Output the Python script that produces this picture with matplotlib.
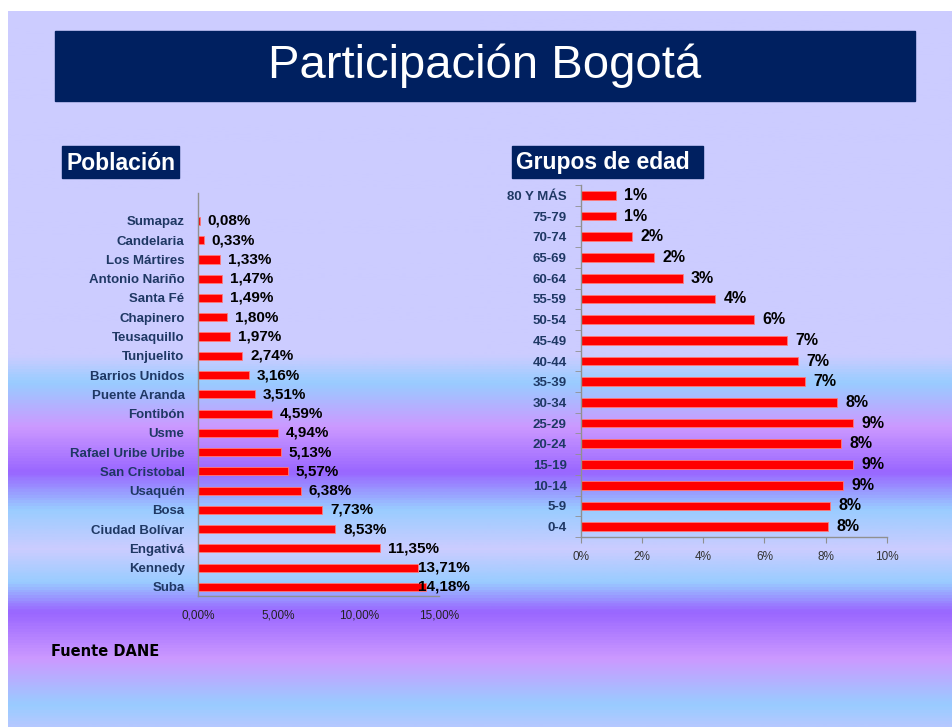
import numpy as np
import matplotlib
matplotlib.use("Agg")
import matplotlib.pyplot as plt
from matplotlib.colors import LinearSegmentedColormap

plt.rcParams['font.family'] = ['Liberation Sans', 'DejaVu Sans']

# data
localidades = ['Suba', 'Kennedy', 'Engativá', 'Ciudad Bolívar', 'Bosa', 'Usaquén',
               'San Cristobal', 'Rafael Uribe Uribe', 'Usme', 'Fontibón',
               'Puente Aranda', 'Barrios Unidos', 'Tunjuelito', 'Teusaquillo',
               'Chapinero', 'Santa Fé', 'Antonio Nariño', 'Los Mártires',
               'Candelaria', 'Sumapaz']
poblacion = [14.18, 13.71, 11.35, 8.53, 7.73, 6.38, 5.57, 5.13, 4.94, 4.59,
             3.51, 3.16, 2.74, 1.97, 1.80, 1.49, 1.47, 1.33, 0.33, 0.08]

grupos = ['0-4', '5-9', '10-14', '15-19', '20-24', '25-29', '30-34', '35-39',
          '40-44', '45-49', '50-54', '55-59', '60-64', '65-69', '70-74',
          '75-79', '80 Y MÁS']
edad = [8.09, 8.15, 8.56, 8.89, 8.51, 8.90, 8.36, 7.32, 7.08, 6.74, 5.65,
        4.39, 3.33, 2.40, 1.69, 1.15, 1.14]
edad_labels = ['8%', '8%', '9%', '9%', '8%', '9%', '8%', '7%', '7%', '7%',
               '6%', '4%', '3%', '2%', '2%', '1%', '1%']

pob_ticks = [0, 5, 10, 15]
edad_ticks = [0, 2, 4, 6, 8, 10]

W, H = 953, 727
fig = plt.figure(figsize=(W / 100, H / 100), dpi=100)


def box(x0, y0, x1, y1):
    # pixel box (top-left origin) -> figure fraction
    return [x0 / W, 1 - y1 / H, (x1 - x0) / W, (y1 - y0) / H]


def rect(x0, y0, x1, y1, color):
    b = box(x0, y0, x1, y1)
    fig.patches.append(plt.Rectangle((b[0], b[1]), b[2], b[3],
                                     transform=fig.transFigure, color=color))


# background gradient of the slide
bg = fig.add_axes(box(8, 11, 953, 727), zorder=-10)
stops = [(11, '#ccccff'), (355, '#ccccff'), (383, '#99ccff'), (427, '#cc99ff'),
         (473, '#9966ff'), (510, '#99ccff'), (550, '#ccccff'), (583, '#99ccff'),
         (613, '#9966ff'), (660, '#cc99ff'), (707, '#99ccff'), (727, '#b4c8ff')]
pos = [(y - 11) / (727 - 11) for y, c in stops]
cmap = LinearSegmentedColormap.from_list('bg', list(zip(pos, [c for y, c in stops])))
grad = np.linspace(0, 1, 700).reshape(-1, 1)
bg.imshow(grad, aspect='auto', cmap=cmap, extent=[0, 1, 0, 1], origin='upper')
bg.axis('off')

# title
rect(55, 31, 915, 101, '#002060')
fig.text(485 / W, 1 - 66 / H, 'Participación Bogotá', color='white',
         fontsize=34, ha='center', va='center')

# subtitle boxes
rect(62, 146, 179, 178, '#002060')
fig.text(66 / W, 1 - 163 / H, 'Población', color='white', fontsize=16.5,
         fontweight='bold', ha='left', va='center')
rect(512, 146, 703, 178, '#002060')
fig.text(516 / W, 1 - 163 / H, 'Grupos de edad', color='white', fontsize=16.5,
         fontweight='bold', ha='left', va='center')

fig.text(51 / W, 1 - 651 / H, 'Fuente DANE', color='black', fontsize=10.5,
         fontweight='bold', ha='left', va='center', family='DejaVu Sans')

label_col = '#1f3864'

# left chart: poblacion
ax1 = fig.add_axes(box(198.5, 193, 439, 596))
y1 = np.arange(len(localidades))
ax1.barh(y1, poblacion, height=0.42, color='#ff0000', edgecolor='#ff7a7a', linewidth=0.6)
ax1.set_xlim(0, 15)
ax1.set_ylim(-0.47, 20.45)
ax1.set_yticks(y1)
ax1.set_yticklabels(localidades, fontsize=9.5, fontweight='bold', color=label_col)
ax1.set_xticks(pob_ticks)
ax1.set_xticklabels([('%.2f%%' % v).replace('.', ',') for v in pob_ticks],
                    fontsize=8.5, color='#222222')
ax1.xaxis.set_tick_params(length=0, pad=10)
ax1.yaxis.set_tick_params(length=0, pad=10)
for s in ['top', 'right']:
    ax1.spines[s].set_visible(False)
for s in ['left', 'bottom']:
    ax1.spines[s].set_color('#909090')
    ax1.spines[s].set_linewidth(1)
ax1.patch.set_visible(False)
for yy, v in zip(y1, poblacion):
    # labels that would leave the plot area are pulled back inside, as in Excel
    ax1.text(min(v + 0.5, 13.7), yy, ('%.2f%%' % v).replace('.', ','),
             va='center', ha='left', fontsize=11, fontweight='bold', color='black')

# right chart: grupos de edad
ax2 = fig.add_axes(box(580.7, 185, 887, 537))
y2 = np.arange(len(grupos))
ax2.barh(y2, edad, height=0.42, color='#ff0000', edgecolor='#ff7a7a', linewidth=0.6)
ax2.set_xlim(0, 10)
ax2.set_ylim(-0.5, 16.5)
ax2.set_yticks(y2)
ax2.set_yticklabels(grupos, fontsize=9.5, fontweight='bold', color=label_col)
ax2.set_yticks(np.arange(-0.5, 16.6, 1), minor=True)
ax2.yaxis.set_tick_params(which='major', length=0, pad=10)
ax2.yaxis.set_tick_params(which='minor', length=4, color='#909090', direction='out')
ax2.set_xticks(edad_ticks)
ax2.set_xticklabels(['%d%%' % v for v in edad_ticks], fontsize=8.5, color='#333333')
ax2.xaxis.set_tick_params(length=4, color='#909090', pad=6)
for s in ['top', 'right']:
    ax2.spines[s].set_visible(False)
for s in ['left', 'bottom']:
    ax2.spines[s].set_color('#909090')
    ax2.spines[s].set_linewidth(1)
ax2.patch.set_visible(False)
for yy, v, t in zip(y2, edad, edad_labels):
    ax2.annotate(t, (v, yy), xytext=(6, 0), textcoords='offset points',
                 va='center', ha='left', fontsize=11.5, fontweight='bold', color='black')

fig.savefig('out.png', dpi=100)
